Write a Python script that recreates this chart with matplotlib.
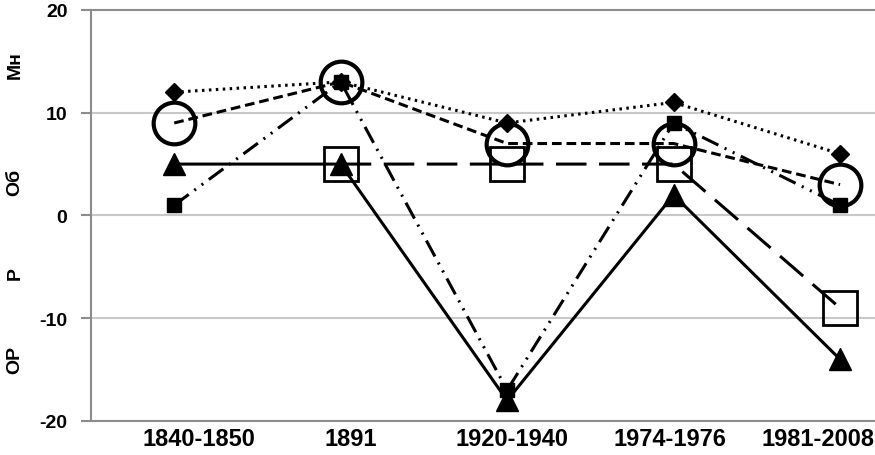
import matplotlib
matplotlib.use("Agg")
import matplotlib.pyplot as plt
import numpy as np

plt.rcParams['lines.scale_dashes'] = False

categories = ["1840-1850", "1891", "1920-1940", "1974-1976", "1981-2008"]
series_diamond = [12, 13, 9, 11, 6]
series_fsquare = [1, 13, -17, 9, 1]
series_triangle = [5, 5, -18, 2, -14]
series_osquare = [np.nan, 5, 5, 5, -9]
series_circle = [9, 13, 7, 7, 3]
y_ticks = [-20, -10, 0, 10, 20]
side_labels = ["Мн", "Об", "Р", "ОР"]

FONT = "Liberation Sans"

fig = plt.figure(figsize=(8.75, 4.56), dpi=100)
ax = fig.add_axes([0.104, 0.0746, 0.896, 0.9014])
x = np.arange(len(categories))

lw = 2.2
ax.plot(x, series_osquare, color='black', lw=lw, dashes=(22, 9),
        marker='s', markersize=25, markerfacecolor='none',
        markeredgecolor='black', markeredgewidth=2.0, zorder=3)
ax.plot(x, series_triangle, color='black', lw=lw, linestyle='-',
        marker='^', markersize=16, markerfacecolor='black',
        markeredgecolor='black', zorder=4)
ax.plot(x, series_fsquare, color='black', lw=lw, dashes=(13, 5, 1.5, 5, 1.5, 5),
        marker='s', markersize=10.5, markerfacecolor='black',
        markeredgecolor='black', zorder=4)
ax.plot(x, series_diamond, color='black', lw=lw, dashes=(1.8, 3.2),
        marker='D', markersize=9, markerfacecolor='black',
        markeredgecolor='black', zorder=4)
ax.plot(x, series_circle, color='black', lw=lw, dashes=(7, 3.5),
        marker='o', markersize=30, markerfacecolor='none',
        markeredgecolor='black', markeredgewidth=3.0, zorder=5)

ax.set_xlim(-0.5, 4.21)
ax.set_ylim(-20, 20)
ax.set_yticks(y_ticks)
ax.set_yticklabels([str(v) for v in y_ticks], fontsize=14, fontweight='bold', family=FONT)
ax.set_xticks([])
# category labels (positioned as in the reference, slightly off the points)
label_offsets = [0.15, 0.06, 0.03, -0.02, -0.13]
for xi, lab, off in zip(x, categories, label_offsets):
    ax.text(xi + off, -0.043, lab, transform=ax.get_xaxis_transform(),
            ha='center', va='center', fontsize=17, fontweight='bold', family=FONT)
ax.tick_params(axis='y', length=7, width=1.5, color='#8c8c8c', pad=10)

ax.grid(axis='y', color='#c8c8c8', lw=1.5)
ax.set_axisbelow(True)
ax.spines['right'].set_visible(False)
for s in ['left', 'bottom', 'top']:
    ax.spines[s].set_color('#8c8c8c')
    ax.spines[s].set_linewidth(1.5)

label_y = [0.857, 0.599, 0.401, 0.211]
for lab, yy in zip(side_labels, label_y):
    fig.text(0.017, yy, lab, rotation=90, ha='center', va='center',
             fontsize=14, fontweight='bold', family=FONT)

fig.savefig("out.png", dpi=100)
